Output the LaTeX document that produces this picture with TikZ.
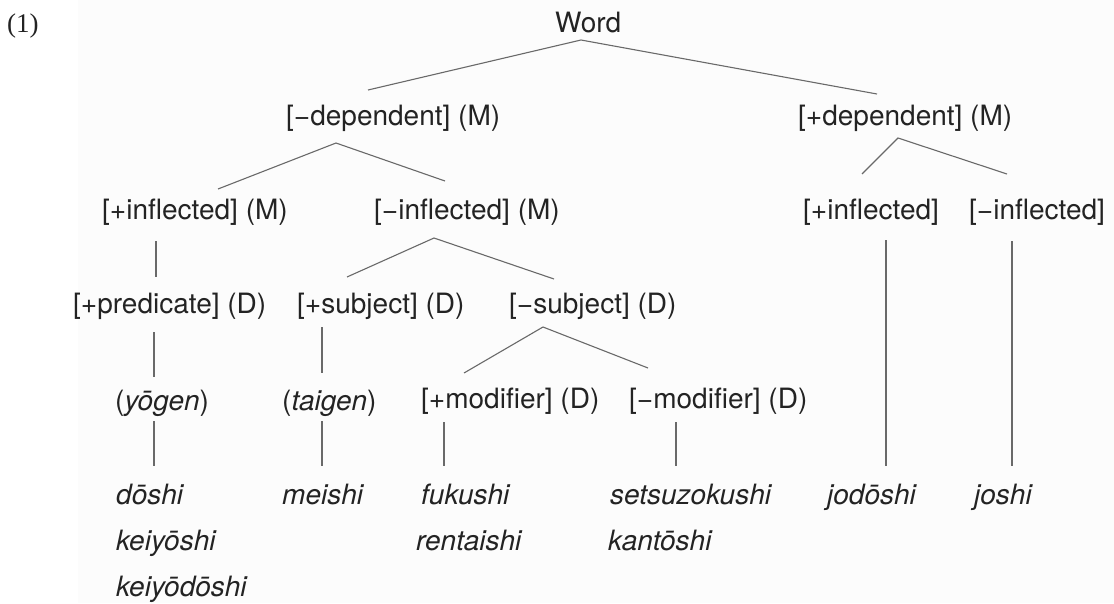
\documentclass[tikz,border=0pt]{standalone}
\usepackage{fontspec}
\newfontfamily\hv{TeX Gyre Heros}
\newfontfamily\numfont{Liberation Serif}
\definecolor{bgtone}{RGB}{252,252,252}
\definecolor{linegray}{RGB}{105,105,105}
\definecolor{textgray}{RGB}{35,35,35}
\begin{document}
\begin{tikzpicture}[x=1pt,y=-1pt,
  lbl/.style={anchor=base west, inner sep=0pt, text=textgray,
    font=\hv\fontsize{28}{32}\selectfont},
  leaf/.style={lbl, font=\hv\itshape\fontsize{28}{32}\selectfont},
  edge/.style={draw=linegray, line width=1.1pt}]
\useasboundingbox (0,0) rectangle (1114,603);
\fill[white] (0,0) rectangle (1114,603);
\fill[bgtone] (78,0) rectangle (1114,603);
% example number
\node[anchor=base west, inner sep=0pt, font=\numfont\fontsize{27}{32}\selectfont, text=textgray] (ex) at (7,32) {(1)};
% row 1
\node[lbl] (word) at (555,32) {Word};
% row 2
\node[lbl] (mdep) at (286,125) {[−dependent] (M)};
\node[lbl] (pdep) at (798,125) {[+dependent] (M)};
% row 3
\node[lbl] (pinfM) at (102,219) {[+inflected] (M)};
\node[lbl] (minfM) at (374,219) {[−inflected] (M)};
\node[lbl] (pinf) at (803,219) {[+inflected]};
\node[lbl] (minf) at (969,219) {[−inflected]};
% row 4
\node[lbl] (pred) at (73,313) {[+predicate] (D)};
\node[lbl] (psubj) at (297,313) {[+subject] (D)};
\node[lbl] (msubj) at (509,313) {[−subject] (D)};
% row 5
\node[lbl] (yogen) at (115,410) {(\textit{yōgen})};
\node[lbl] (taigen) at (282,410) {(\textit{taigen})};
\node[lbl] (pmod) at (421,408) {[+modifier] (D)};
\node[lbl] (mmod) at (629,408) {[−modifier] (D)};
% leaves
\node[leaf] (doshi) at (116,504) {dōshi};
\node[leaf] (keiyoshi) at (116,550) {keiyōshi};
\node[leaf] (keiyodoshi) at (116,596) {keiyōdōshi};
\node[leaf] (meishi) at (282,504) {meishi};
\node[leaf] (fukushi) at (421,504) {fukushi};
\node[leaf] (rentaishi) at (416,550) {rentaishi};
\node[leaf] (setsu) at (610,504) {setsuzokushi};
\node[leaf] (kanto) at (608,550) {kantōshi};
\node[leaf] (jodoshi) at (827,504) {jodōshi};
\node[leaf] (joshi) at (974,504) {joshi};
% connector points
\coordinate (word-b) at (581,40);
\coordinate (mdep-t) at (368,90);
\coordinate (pdep-t) at (877,94);
\coordinate (mdep-b) at (336,143);
\coordinate (pinfM-t) at (218,189);
\coordinate (minfM-t) at (445,181);
\coordinate (pdep-b) at (898,138);
\coordinate (pinf-t) at (862,174);
\coordinate (minf-t) at (1007,174);
\coordinate (pinfM-b) at (156,241);
\coordinate (pred-t) at (156,277);
\coordinate (minfM-b) at (434,238);
\coordinate (psubj-t) at (347,277);
\coordinate (msubj-t) at (554,279);
\coordinate (pinf-b) at (886,240);
\coordinate (jodoshi-t) at (886,466);
\coordinate (minf-b) at (1012,241);
\coordinate (joshi-t) at (1012,466);
\coordinate (pred-b) at (154,332);
\coordinate (yogen-t) at (154,377);
\coordinate (psubj-b) at (322,327);
\coordinate (taigen-t) at (322,373);
\coordinate (msubj-b) at (543,327);
\coordinate (pmod-t) at (464,373);
\coordinate (mmod-t) at (648,368);
\coordinate (yogen-b) at (154,421);
\coordinate (doshi-t) at (154,466);
\coordinate (taigen-b) at (322,421);
\coordinate (meishi-t) at (322,466);
\coordinate (pmod-b) at (444,422);
\coordinate (fukushi-t) at (444,466);
\coordinate (mmod-b) at (676,422);
\coordinate (setsu-t) at (676,466);
% connectors
\draw[edge] (mdep-t) -- (word-b) -- (pdep-t);
\draw[edge] (pinfM-t) -- (mdep-b) -- (minfM-t);
\draw[edge] (pinf-t) -- (pdep-b) -- (minf-t);
\draw[edge] (pinfM-b) -- (pred-t);
\draw[edge] (psubj-t) -- (minfM-b) -- (msubj-t);
\draw[edge] (pinf-b) -- (jodoshi-t);
\draw[edge] (minf-b) -- (joshi-t);
\draw[edge] (pred-b) -- (yogen-t);
\draw[edge] (psubj-b) -- (taigen-t);
\draw[edge] (pmod-t) -- (msubj-b) -- (mmod-t);
\draw[edge] (yogen-b) -- (doshi-t);
\draw[edge] (taigen-b) -- (meishi-t);
\draw[edge] (pmod-b) -- (fukushi-t);
\draw[edge] (mmod-b) -- (setsu-t);
\end{tikzpicture}
\end{document}
